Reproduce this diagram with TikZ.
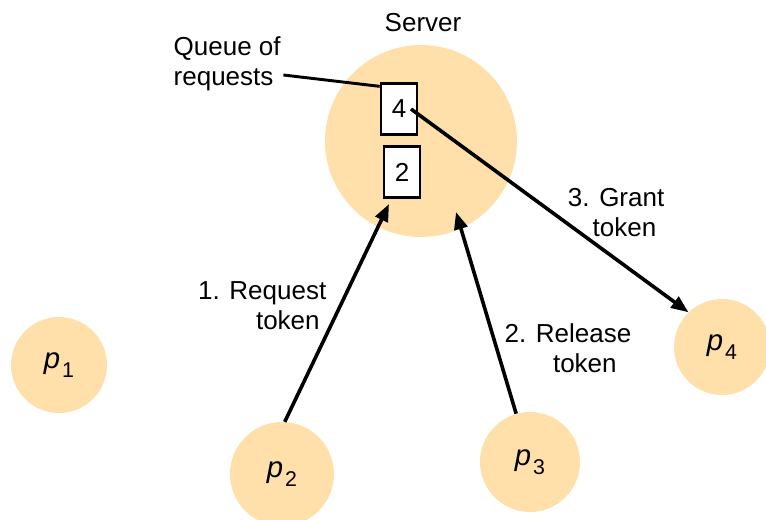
\documentclass[tikz,border=0pt]{standalone}
\usepackage{fontspec}
\setmainfont{Liberation Sans}
\usetikzlibrary{arrows.meta,calc}
\definecolor{procfill}{RGB}{255,224,170}
\newcommand{\pname}[1]{{\fontsize{22}{22}\selectfont\itshape p}\kern1.5pt\raisebox{-6.5pt}{\fontsize{16}{16}\selectfont #1}}

\begin{document}
\begin{tikzpicture}[x=0.75pt,y=-0.75pt,
    every node/.style={font=\fontsize{19.5}{22.5}\selectfont},
    proc/.style={circle,fill=procfill,inner sep=0pt},
    qbox/.style={draw,line width=2pt,fill=white,minimum width=27pt,minimum height=38pt,inner sep=0pt},
    msg/.style={line width=2.7pt,-{Triangle[length=13pt,width=10pt]}}]
  \path[use as bounding box] (0,0) rectangle (766,519);

  % server with its queue
  \node[proc,minimum size=144pt] (server) at (421,141) {};
  \node (srvlabel) at (423,23) {Server};
  \node[qbox] (box4) at (399,109) {4};
  \node[qbox] (box2) at (402,172) {2};
  \node[align=left,anchor=west] (queue) at (169,64) {Queue of\\requests};
  \draw[line width=2.2pt] ($(queue.east)+(-2,11)$) -- ([yshift=-3pt]box4.north west);

  % processes
  \node[proc,minimum size=72pt] (p1) at (59,365) {\pname{1}};
  \node[proc,minimum size=78pt] (p2) at (282,474) {\pname{2}};
  \node[proc,minimum size=75pt] (p3) at (530,462) {\pname{3}};
  \node[proc,minimum size=72pt] (p4) at (722,347) {\pname{4}};

  % messages
  \coordinate (reqend) at (389,204);
  \coordinate (relend) at (456,212);
  \draw[msg] (p2.87) -- (reqend);
  \draw[msg] (p3.106) -- (relend);
  \draw[msg] ([xshift=9pt]box4.center) -- (p4.134);

  \node[align=right,anchor=east] (reqlabel) at (331,306) {1. Request\\token\hspace*{5pt}};
  \node[align=right,anchor=east] (rellabel) at (636,348) {2. Release\\token\hspace*{11pt}};
  \node[align=right,anchor=east] (grantlabel) at (669,213) {3. Grant\\token\hspace*{6pt}};
\end{tikzpicture}
\end{document}
